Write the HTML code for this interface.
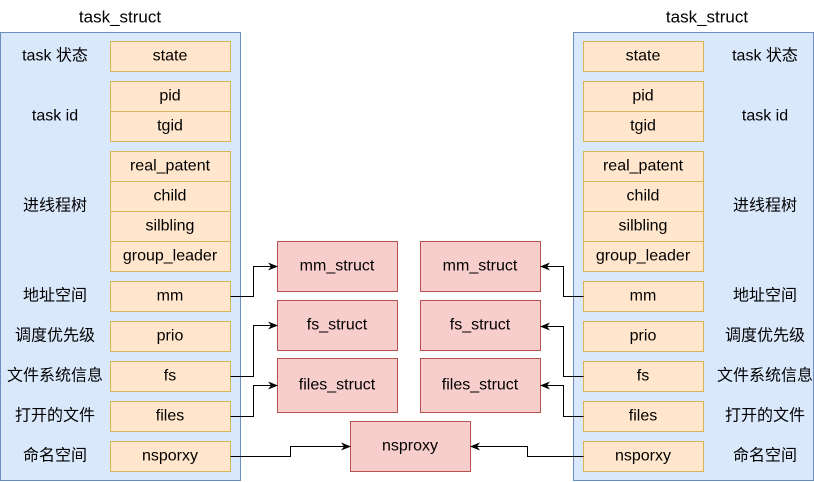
<!DOCTYPE html>
<html><head><meta charset="utf-8"><style>
html,body{margin:0;padding:0;background:#fff;width:814px;height:482px;overflow:hidden}
svg{display:block}
text{font-family:"Liberation Sans","Noto Sans CJK SC",sans-serif;font-size:16px;fill:#000;text-anchor:middle;dominant-baseline:central}
.c{fill:#dae8fc;stroke:#6c8ebf;stroke-width:1}
.f{fill:#ffe6cc;stroke:#d6b656;stroke-width:1}
.s{fill:#f8cecc;stroke:#b85450;stroke-width:1}
.l{fill:none;stroke:#000;stroke-width:1}
</style></head><body>
<svg width="814" height="482" viewBox="0 0 814 482">
<defs><marker id="a" markerWidth="10" markerHeight="8" refX="9" refY="4" orient="auto" markerUnits="userSpaceOnUse"><path d="M0,0 L10,4 L0,8 L3,4 Z" fill="#000"/></marker></defs>
<text x="120" y="17" style="font-size:17px">task_struct</text>
<text x="707" y="17" style="font-size:17px">task_struct</text>
<rect class="c" x="0.5" y="32.5" width="240" height="448"/>
<rect class="c" x="573.5" y="32.5" width="240" height="448"/>
<g id="L">
<rect class="f" x="110.5" y="41.5" width="120" height="30"/><text x="170" y="56">state</text>
<rect class="f" x="110.5" y="81.5" width="120" height="30"/><text x="170" y="96">pid</text>
<rect class="f" x="110.5" y="111.5" width="120" height="30"/><text x="170" y="126">tgid</text>
<rect class="f" x="110.5" y="151.5" width="120" height="30"/><text x="170" y="166">real_patent</text>
<rect class="f" x="110.5" y="181.5" width="120" height="30"/><text x="170" y="196">child</text>
<rect class="f" x="110.5" y="211.5" width="120" height="30"/><text x="170" y="226">silbling</text>
<rect class="f" x="110.5" y="241.5" width="120" height="30"/><text x="170" y="256">group_leader</text>
<rect class="f" x="110.5" y="281.5" width="120" height="30"/><text x="170" y="296">mm</text>
<rect class="f" x="110.5" y="321.5" width="120" height="30"/><text x="170" y="336">prio</text>
<rect class="f" x="110.5" y="361.5" width="120" height="30"/><text x="170" y="376">fs</text>
<rect class="f" x="110.5" y="401.5" width="120" height="30"/><text x="170" y="416">files</text>
<rect class="f" x="110.5" y="441.5" width="120" height="30"/><text x="170" y="456">nsporxy</text>
</g>
<use href="#L" x="473"/>
<g>
<text x="55" y="56">task 状态</text><text x="55" y="116">task id</text><text x="55" y="206">进线程树</text>
<text x="55" y="296">地址空间</text><text x="55" y="336">调度优先级</text><text x="55" y="376">文件系统信息</text>
<text x="55" y="416">打开的文件</text><text x="55" y="456">命名空间</text>
<text x="765" y="56">task 状态</text><text x="765" y="116">task id</text><text x="765" y="206">进线程树</text>
<text x="765" y="296">地址空间</text><text x="765" y="336">调度优先级</text><text x="765" y="376">文件系统信息</text>
<text x="765" y="416">打开的文件</text><text x="765" y="456">命名空间</text>
</g>
<rect class="s" x="277.5" y="241.5" width="120" height="50"/><text x="337" y="266">mm_struct</text>
<rect class="s" x="277.5" y="300.5" width="120" height="50"/><text x="337" y="325">fs_struct</text>
<rect class="s" x="277.5" y="358.5" width="120" height="54"/><text x="337" y="385">files_struct</text>
<rect class="s" x="420.5" y="241.5" width="120" height="50"/><text x="480" y="266">mm_struct</text>
<rect class="s" x="420.5" y="300.5" width="120" height="50"/><text x="480" y="325">fs_struct</text>
<rect class="s" x="420.5" y="358.5" width="120" height="54"/><text x="480" y="385">files_struct</text>
<rect class="s" x="350.5" y="421.5" width="120" height="50"/><text x="410" y="446">nsproxy</text>
<path class="l" marker-end="url(#a)" d="M230.5,296.5 H253.5 V266.5 H277"/>
<path class="l" marker-end="url(#a)" d="M230.5,376.5 H253.5 V325.5 H277"/>
<path class="l" marker-end="url(#a)" d="M230.5,416.5 H253.5 V385.5 H277"/>
<path class="l" marker-end="url(#a)" d="M230.5,456.5 H290.5 V446.5 H350"/>
<path class="l" marker-end="url(#a)" d="M583.5,296.5 H563.5 V266.5 H541"/>
<path class="l" marker-end="url(#a)" d="M583.5,376.5 H563.5 V326.5 H541"/>
<path class="l" marker-end="url(#a)" d="M583.5,416.5 H563.5 V385.5 H541"/>
<path class="l" marker-end="url(#a)" d="M583.5,456.5 H527.5 V446.5 H471"/>
</svg>
</body></html>
